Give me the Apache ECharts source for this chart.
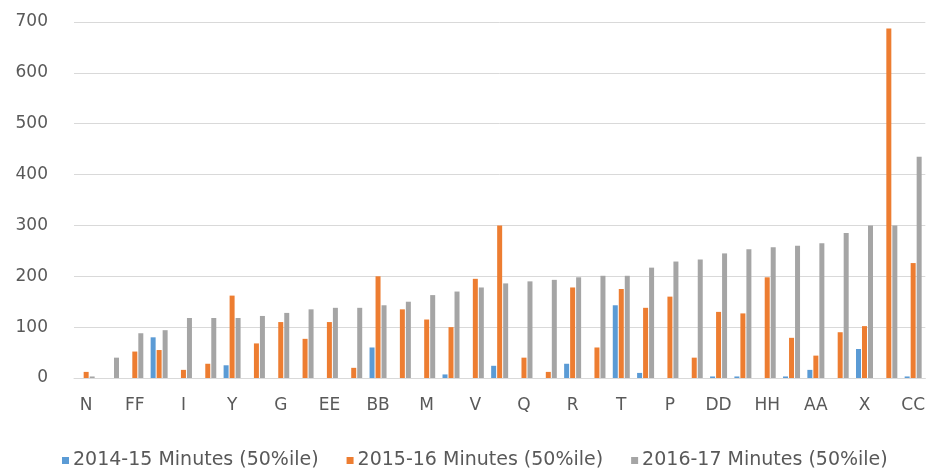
<!DOCTYPE html>
<html>
<head>
<meta charset="utf-8">
<title>Minutes (50%ile) by site</title>
<script src="https://cdn.jsdelivr.net/npm/echarts@6/dist/echarts.min.js"></script>
<style>
  html, body { margin: 0; padding: 0; background: #ffffff; }
  #chart { width: 928px; height: 472px; }
</style>
</head>
<body>
<div id="chart"></div>
<script>
// Sites, sorted by the 2016-17 median
const categories = [
  'N', 'A', 'FF', 'B', 'I', 'C', 'Y', 'D', 'G', 'E', 'EE', 'F', 'BB', 'H', 'M', 'J', 'V', 'K',
  'Q', 'L', 'R', 'O', 'T', 'S', 'P', 'U', 'DD', 'W', 'HH', 'Z', 'AA', 'GG', 'X', 'II', 'CC'
];

const seriesNames = [
  '2014-15 Minutes (50%ile)',
  '2015-16 Minutes (50%ile)',
  '2016-17 Minutes (50%ile)'
];

const minutes201415 = [
  0, 0, 0, 80, 0, 0, 25, 0, 0, 0, 0, 0, 60, 0, 0, 7, 0, 24,
  0, 0, 28, 0, 143, 10, 0, 0, 3, 3, 0, 3, 16, 0, 57, 0, 3
];

const minutes201516 = [
  12, 0, 52, 55, 16, 28, 162, 68, 110, 77, 110, 20, 200, 135, 115, 100, 195, 300,
  40, 12, 178, 60, 175, 138, 160, 40, 130, 127, 198, 79, 44, 90, 102, 687, 226
];

const minutes201617 = [
  3, 40, 88, 94, 118, 118, 118, 122, 128, 135, 138, 138, 143, 150, 163, 170, 178, 186,
  190, 193, 198, 201, 201, 217, 229, 233, 245, 253, 257, 260, 265, 285, 300, 300, 435
];

const yTicks = { min: 0, max: 700, interval: 100 };

const colors = ['#5B9BD5', '#ED7D31', '#A5A5A5'];
const textColor = '#595959';
const font = 'DejaVu Sans';

const chart = echarts.init(document.getElementById('chart'), null, { renderer: 'canvas' });

const valueSets = [minutes201415, minutes201516, minutes201617];

chart.setOption({
  animation: false,
  backgroundColor: '#ffffff',
  color: colors,
  grid: { left: 74, right: 1, top: 22, bottom: 94, containLabel: false },
  legend: {
    data: seriesNames,
    top: 446,
    left: 57,
    itemWidth: 7,
    itemHeight: 7,
    itemGap: 28,
    icon: 'rect',
    textStyle: { color: textColor, fontSize: 19, fontFamily: font, padding: [0, 0, 0, -1] }
  },
  xAxis: {
    type: 'category',
    data: categories,
    boundaryGap: true,
    axisLine: { show: true, lineStyle: { color: '#D9D9D9', width: 1 } },
    axisTick: { show: false },
    axisLabel: {
      interval: 1,
      color: textColor,
      fontSize: 17,
      fontFamily: font,
      margin: 19
    },
    splitLine: { show: false }
  },
  yAxis: {
    type: 'value',
    min: yTicks.min,
    max: yTicks.max,
    interval: yTicks.interval,
    axisLine: { show: false },
    axisTick: { show: false },
    axisLabel: { color: textColor, fontSize: 17, fontFamily: font, margin: 26 },
    splitLine: { show: true, lineStyle: { color: '#D9D9D9', width: 1 } }
  },
  series: seriesNames.map((name, i) => ({
    name: name,
    type: 'bar',
    data: valueSets[i],
    barWidth: 5,
    barGap: '20%',
    itemStyle: { color: colors[i] }
  }))
});
</script>
</body>
</html>
